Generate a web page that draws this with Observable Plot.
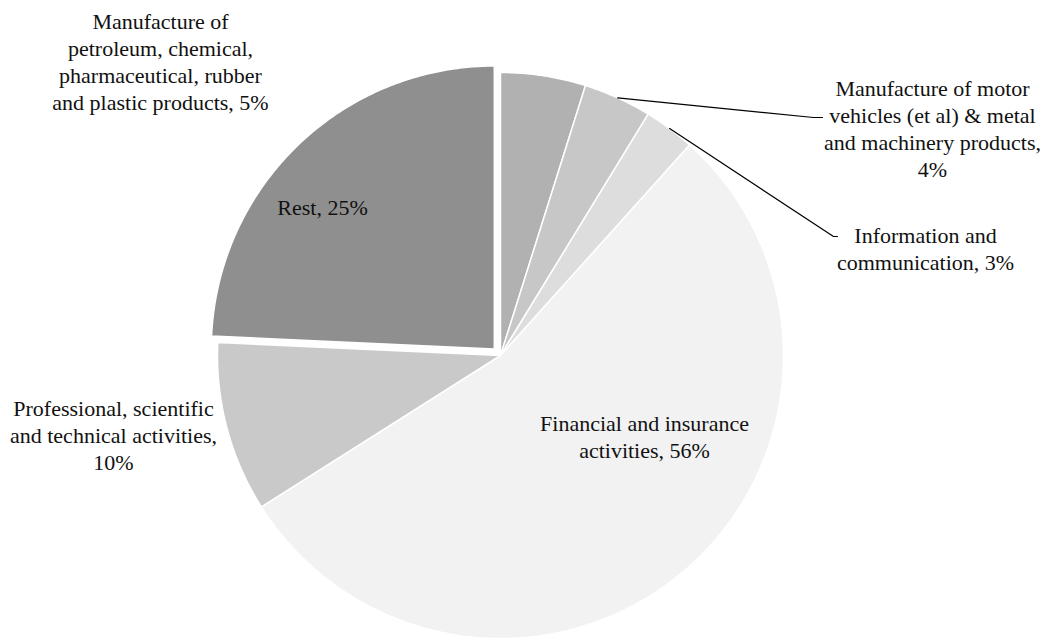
<!DOCTYPE html>
<html><head><meta charset="utf-8">
<script src="https://cdn.jsdelivr.net/npm/d3@7"></script>
<script src="https://cdn.jsdelivr.net/npm/@observablehq/plot@0.6"></script>
<style>html,body{margin:0;padding:0;background:#fff}</style>
</head><body><div id="chart"></div>
<script>
// ---- data ----
const categories = [
  "Manufacture of petroleum, chemical, pharmaceutical, rubber and plastic products",
  "Manufacture of motor vehicles (et al) & metal and machinery products",
  "Information and communication",
  "Financial and insurance activities",
  "Professional, scientific and technical activities",
  "Rest"
];
const shares = [5, 4, 3, 56, 10, 25];
const labelLines = [
  ["Manufacture of", "petroleum, chemical,", "pharmaceutical, rubber", "and plastic products, 5%"],
  ["Manufacture of motor", "vehicles (et al) & metal", "and machinery products,", "4%"],
  ["Information and", "communication, 3%"],
  ["Financial and insurance", "activities, 56%"],
  ["Professional, scientific", "and technical activities,", "10%"],
  ["Rest, 25%"]
];

// ---- style / layout ----
const sliceColors = ["#b1b1b1", "#c7c7c7", "#dddddd", "#f2f2f2", "#c9c9c9", "#8f8f8f"];
const W = 1048, H = 641, CX = 500, CY = 355, R = 283;
const explodePx = [0, 0, 0, 0, 0, 9];
const labelPx = [[160, 60], [932, 127], [925, 247], [644, 435], [113, 434], [322, 206]];
const leaderElbowsPx = {1: [[813, 117], [822, 117]], 2: [[833, 236], [837, 236]]};

const ux = px => (px - CX) / R;
const uy = py => (CY - py) / R;

const arcs = d3.pie().sort(null).value(d => d)(shares);

const sliceMarks = arcs.map((a, i) => {
  const mid = (a.startAngle + a.endAngle) / 2;
  const off = explodePx[i] / R;
  const ox = off * Math.sin(mid), oy = off * Math.cos(mid);
  const pts = [{x: ox, y: oy}];
  const n = Math.max(2, Math.ceil((a.endAngle - a.startAngle) / (Math.PI / 360)));
  for (let k = 0; k <= n; k++) {
    const t = a.startAngle + (a.endAngle - a.startAngle) * k / n;
    pts.push({x: ox + Math.sin(t), y: oy + Math.cos(t)});
  }
  pts.push({x: ox, y: oy});
  return Plot.line(pts, {x: "x", y: "y", fill: sliceColors[i], stroke: "white", strokeWidth: 1.5, strokeLinejoin: "miter"});
});

const leaderMarks = Object.entries(leaderElbowsPx).map(([i, elbows]) => {
  const a = arcs[+i];
  const mid = (a.startAngle + a.endAngle) / 2;
  const pts = [{x: Math.sin(mid), y: Math.cos(mid)}, ...elbows.map(([px, py]) => ({x: ux(px), y: uy(py)}))];
  return Plot.line(pts, {x: "x", y: "y", stroke: "#000", strokeWidth: 1.2});
});

const labels = labelLines.map((lines, i) => ({
  text: lines.join("\n"),
  x: ux(labelPx[i][0]),
  y: uy(labelPx[i][1])
}));

const chart = Plot.plot({
  width: W,
  height: H,
  margin: 0,
  x: {domain: [ux(0), ux(W)], range: [0, W], axis: null},
  y: {domain: [uy(H), uy(0)], range: [H, 0], axis: null},
  style: {background: "#fff", overflow: "visible"},
  marks: [
    ...sliceMarks,
    ...leaderMarks,
    Plot.text(labels, {
      x: "x", y: "y", text: "text",
      textAnchor: "middle", lineAnchor: "middle", lineHeight: 1.23,
      fontSize: 22, fontFamily: "Liberation Serif", fill: "#111"
    })
  ]
});
document.getElementById("chart").appendChild(chart);
</script>
</body></html>
